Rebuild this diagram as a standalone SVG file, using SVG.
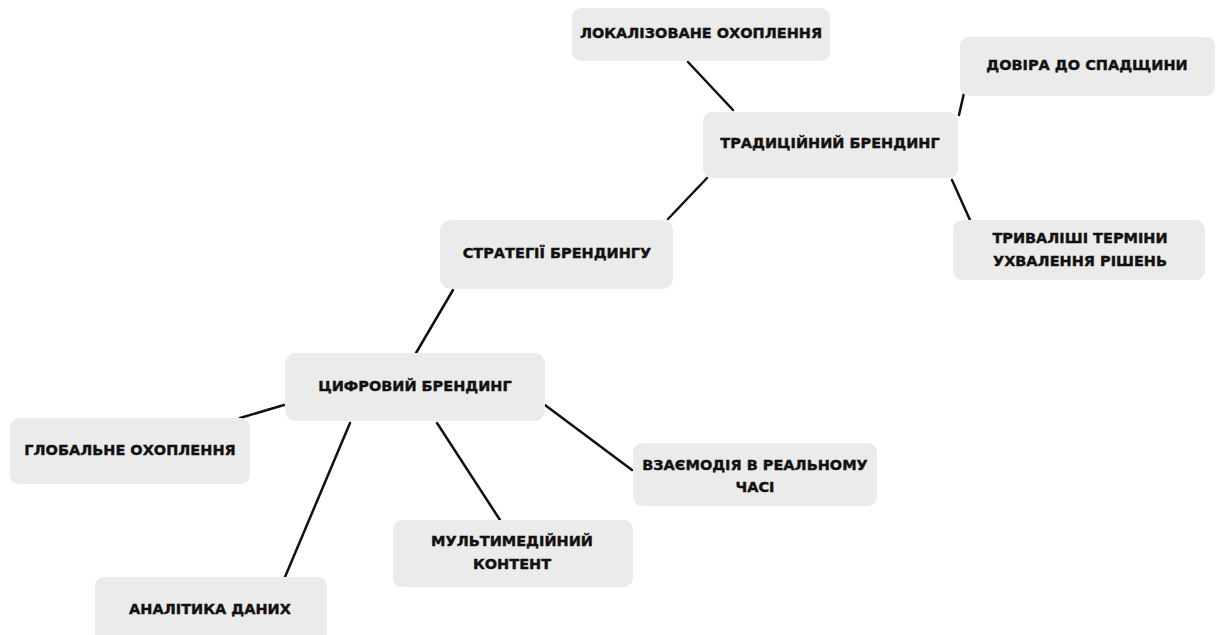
<svg xmlns="http://www.w3.org/2000/svg" width="1217" height="635" viewBox="0 0 1217 635">
<style>
.box{fill:#ebebeb}
.t{font-family:"DejaVu Sans","Liberation Sans",sans-serif;font-weight:bold;font-size:14.5px;fill:#111;stroke:#111;stroke-width:0.4;text-anchor:middle;dominant-baseline:central}
.c{stroke:#111;stroke-width:2.5;fill:none;stroke-linecap:round}
</style>
<rect width="1217" height="635" fill="#ffffff"/>
<g id="connectors">
<line class="c" x1="688" y1="62" x2="733" y2="110"/>
<line class="c" x1="964" y1="93" x2="959" y2="115"/>
<line class="c" x1="952" y1="180" x2="970" y2="220"/>
<line class="c" x1="707" y1="178" x2="668" y2="219"/>
<line class="c" x1="453" y1="290" x2="416" y2="353"/>
<line class="c" x1="284" y1="405" x2="240" y2="418"/>
<line class="c" x1="350" y1="423" x2="285" y2="577"/>
<line class="c" x1="437" y1="423" x2="500" y2="520"/>
<line class="c" x1="545" y1="405" x2="632" y2="470"/>
</g>
<g id="n-local"><rect class="box" x="572" y="8" width="258" height="53" rx="9"/><text class="t" x="701" y="33">ЛОКАЛІЗОВАНЕ ОХОПЛЕННЯ</text></g>
<g id="n-trust"><rect class="box" x="960" y="37" width="255" height="59" rx="9"/><text class="t" x="1087" y="65">ДОВІРА ДО СПАДЩИНИ</text></g>
<g id="n-trad"><rect class="box" x="703" y="112" width="255" height="66" rx="9"/><text class="t" x="830" y="143">ТРАДИЦІЙНИЙ БРЕНДИНГ</text></g>
<g id="n-long"><rect class="box" x="953" y="220" width="252" height="60" rx="9"/><text class="t" x="1080" y="238">ТРИВАЛІШІ ТЕРМІНИ</text><text class="t" x="1080" y="261">УХВАЛЕННЯ РІШЕНЬ</text></g>
<g id="n-strat"><rect class="box" x="440" y="220" width="233" height="69" rx="11"/><text class="t" x="557" y="253">СТРАТЕГІЇ БРЕНДИНГУ</text></g>
<g id="n-digital"><rect class="box" x="285" y="353" width="260" height="68" rx="11"/><text class="t" x="415" y="386">ЦИФРОВИЙ БРЕНДИНГ</text></g>
<g id="n-global"><rect class="box" x="10" y="418" width="240" height="66" rx="9"/><text class="t" x="130" y="450">ГЛОБАЛЬНЕ ОХОПЛЕННЯ</text></g>
<g id="n-realtime"><rect class="box" x="633" y="443" width="244" height="63" rx="9"/><text class="t" x="755" y="465">ВЗАЄМОДІЯ В РЕАЛЬНОМУ</text><text class="t" x="755" y="487">ЧАСІ</text></g>
<g id="n-media"><rect class="box" x="393" y="520" width="240" height="67" rx="9"/><text class="t" x="512" y="541">МУЛЬТИМЕДІЙНИЙ</text><text class="t" x="512" y="564">КОНТЕНТ</text></g>
<g id="n-analytics"><rect class="box" x="95" y="577" width="232" height="70" rx="9"/><text class="t" x="210" y="609">АНАЛІТИКА ДАНИХ</text></g>
</svg>
